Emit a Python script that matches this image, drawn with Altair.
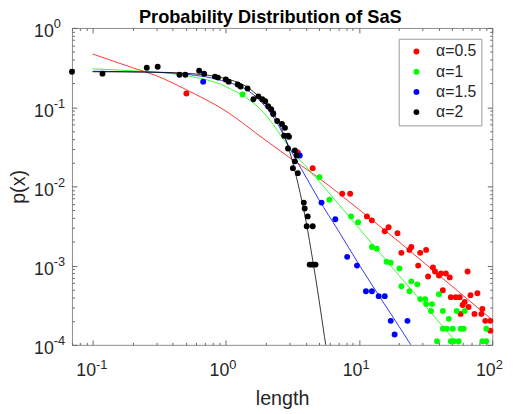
import altair as alt
import pandas as pd

# ---------------- data ----------------
series_names = ["α=0.5", "α=1", "α=1.5", "α=2"]
series_colors = ["#ff0000", "#00ff00", "#0000ff", "#000000"]

# scattered points
red_x = [0.506, 3.47, 4.49, 7.48, 8.58, 11.47, 12.48, 15.59, 16.68, 19.45, 20.8, 23.9, 24.7,
         28.8, 31.9, 27.8, 33.0, 35.9, 37.2, 39.8, 41.2, 44.9, 48.0, 65.3, 42.6, 53.2, 57.0,
         62.1, 68.7, 77.4, 48.9, 57.9, 66.4, 73.6, 82.9, 59.9, 88.7, 96.7, 96.7, 84.3]
red_y = [0.149, 0.0268, 0.0170, 0.00807, 0.00807, 0.00418, 0.00373, 0.00272, 0.00305, 0.00257,
         0.00145, 0.00158, 0.00172, 0.00145, 0.00158, 0.00100, 0.00073, 0.000945, 0.000842,
         0.000751, 0.000796, 0.000796, 0.00071, 0.000842, 0.000489, 0.0004, 0.0004, 0.000347,
         0.000424, 0.000449, 0.0004, 0.000246, 0.0003, 0.000246, 0.000246, 0.000318, 0.000201,
         0.000201, 0.000151, 0.000284]

green_x = [1.336, 5.05, 5.99, 8.73, 9.84, 12.5, 13.6, 16.1, 17.3, 20.1, 20.8, 23.9, 24.7, 27.4,
           28.8, 31.4, 31.9, 35.3, 34.7, 39.8, 42.6, 47.2, 42.6, 45.6, 50.6, 54.1, 62.1, 57.9,
           61.0, 38.5, 48.9, 51.4, 56.0, 84.3, 90.3, 90.3]
green_y = [0.145, 0.0131, 0.0068, 0.00418, 0.00352, 0.00172, 0.00163, 0.00112, 0.00109, 0.000918,
           0.000548, 0.000475, 0.000633, 0.00058, 0.000378, 0.000378, 0.000327, 0.000327,
           0.000268, 0.000436, 0.000268, 0.000213, 0.00016, 0.00016, 0.00016, 0.000268, 0.000268,
           0.00016, 0.00016, 0.000111, 0.000111, 0.000111, 0.000111, 0.000111, 0.000111, 0.00016]

blue_x = [0.676, 2.27, 3.59, 5.23, 6.64, 8.15, 9.66, 11.27, 12.5, 14.06, 15.6, 17.3, 23.1, 18.5]
blue_y = [0.210, 0.0842, 0.0246, 0.00624, 0.00384, 0.00129, 0.0010, 0.000475, 0.000475,
          0.000412, 0.000412, 0.000201, 0.000201, 0.000135]

black_x = [0.07, 0.1186, 0.255, 0.308, 0.449, 0.497, 0.631, 0.687, 0.829, 0.873, 1.0, 1.052,
           1.227, 1.291, 1.455, 1.612, 1.755, 1.879, 1.977, 2.08, 2.19, 2.27, 2.43, 2.64, 2.78,
           2.93, 2.74, 2.98, 2.93, 3.30, 3.41, 3.30, 3.19, 3.47, 3.85, 3.91, 4.12, 4.05, 4.49,
           4.26, 4.41, 4.56, 4.72]
black_y = [0.280, 0.265, 0.314, 0.323, 0.257, 0.257, 0.288, 0.265, 0.243, 0.236, 0.223, 0.210,
           0.193, 0.182, 0.172, 0.126, 0.137, 0.126, 0.119, 0.103, 0.0944, 0.0819, 0.067,
           0.0615, 0.0548, 0.0436, 0.0436, 0.0424, 0.0301, 0.0284, 0.0246, 0.0207, 0.0170,
           0.0147, 0.00624, 0.00525, 0.00418, 0.00314, 0.00314, 0.00103, 0.00103, 0.00103, 0.00103]

# fitted curves
red_line_x = [0.1, 0.2, 0.3, 0.5, 1, 2, 3, 5, 10, 20, 50, 100]
red_line_y = [0.469, 0.314, 0.25, 0.1675, 0.0892, 0.0379, 0.0232, 0.01276, 0.0051, 0.00199,
              0.000548, 0.000207]
green_line_x = [0.1, 0.2, 0.3, 0.5, 1, 2, 3, 5, 10, 20, 50, 100]
green_line_y = [0.305, 0.288, 0.276, 0.25, 0.182, 0.0796, 0.031, 0.0117, 0.00296, 0.00075,
                0.000124, 3.05e-5]
blue_line_x = [0.1, 0.2, 0.3, 0.5, 1, 1.5, 2, 2.5, 3, 4, 5, 7, 10, 15, 20, 30]
blue_line_y = [0.284, 0.280, 0.276, 0.261, 0.21, 0.158, 0.1, 0.058, 0.031, 0.0131, 0.0068,
               0.00276, 0.00103, 0.000357, 0.00017, 5.9e-5]
black_line_x = [0.1, 0.3, 0.5, 1, 1.5, 2, 2.5, 3, 3.5, 4, 4.5, 5, 5.5, 6]
black_line_y = [0.28, 0.276, 0.268, 0.229, 0.172, 0.109, 0.0632, 0.0284, 0.01045, 0.00362,
                0.00115, 0.000378, 0.000128, 4.96e-5]

# tick labels: base "10" with a raised exponent
x_tick_values = [0.1, 1, 10, 100]
x_tick_exponents = ["-1", "0", "1", "2"]
y_tick_values = [0.0001, 0.001, 0.01, 0.1, 1]
y_tick_exponents = ["-4", "-3", "-2", "-1", "0"]

x_domain = [0.07, 100]
y_domain = [0.0001, 1]

# ---------------- tables ----------------
pts = []
for name, xs_, ys_ in zip(series_names, [red_x, green_x, blue_x, black_x],
                          [red_y, green_y, blue_y, black_y]):
    for x, y in zip(xs_, ys_):
        pts.append({"series": name, "x": x, "y": y})
pts = pd.DataFrame(pts)

line_tables = []
for xs_, ys_ in zip([red_line_x, green_line_x, blue_line_x, black_line_x],
                    [red_line_y, green_line_y, blue_line_y, black_line_y]):
    line_tables.append(pd.DataFrame({"x": xs_, "y": ys_}))

minor_x = [m * 10 ** e for e in range(-2, 3) for m in range(1, 10)
           if x_domain[0] <= m * 10 ** e <= x_domain[1]]
minor_y = [m * 10 ** e for e in range(-4, 1) for m in range(1, 10)
           if y_domain[0] <= m * 10 ** e <= y_domain[1]]

W, H = 427, 322
FONT = "Liberation Sans"
TXT = "#262626"
BASE_FS = 18
EXP_FS = 13


def label_expr(values, labels):
    parts = [f"abs(datum.value - {v}) < {v} * 0.001 ? '{l}'" for v, l in zip(values, labels)]
    return " : ".join(parts) + " : ''"


xs = alt.Scale(type="log", domain=x_domain, nice=False)
ys = alt.Scale(type="log", domain=y_domain, nice=False)
cscale = alt.Scale(domain=series_names, range=series_colors)

x_axis = alt.Axis(values=x_tick_values, labelExpr="'10'",
                  ticks=False, domain=False, grid=False, title="length",
                  labelFontSize=BASE_FS, titleFontSize=20, labelPadding=17,
                  labelAlign="right", labelOffset=3,
                  titleFontWeight="normal", titleY=45, labelFlush=False)
y_axis = alt.Axis(values=y_tick_values, labelExpr="'10'",
                  ticks=False, domain=False, grid=False, title="p(x)",
                  labelFontSize=BASE_FS, titleFontSize=20, labelPadding=19,
                  labelAlign="right", labelBaseline="middle", labelOffset=4,
                  titleFontWeight="normal", titleX=-44, labelFlush=False)

line_layers = []
for tbl, col in zip(line_tables, series_colors):
    line_layers.append(
        alt.Chart(tbl).mark_line(clip=True, strokeWidth=0.8, interpolate="monotone",
                                 color=col).encode(
            x=alt.X("x:Q", scale=xs, axis=x_axis),
            y=alt.Y("y:Q", scale=ys, axis=y_axis),
        )
    )

points = alt.Chart(pts).mark_circle(size=36, opacity=1).encode(
    x=alt.X("x:Q", scale=xs, axis=x_axis),
    y=alt.Y("y:Q", scale=ys, axis=y_axis),
    color=alt.Color("series:N", scale=cscale, sort=series_names,
                    legend=alt.Legend(title=None, orient="top-right", offset=11,
                                      strokeColor="#9a9a9a", fillColor="white",
                                      padding=5, labelFontSize=16, labelFont=FONT,
                                      labelColor=TXT, symbolSize=36, symbolType="circle",
                                      rowPadding=4.5, symbolOffset=5, labelOffset=12)),
)
main = alt.layer(*line_layers, points)

tick_size = {"condition": {"test": "abs(log(datum.value)/LN10 - round(log(datum.value)/LN10)) < 0.01",
                           "value": 5}, "value": 2.5}
dummy = pd.DataFrame({"x": [1.0], "y": [0.01]})


def tick_layer(xorient, yorient):
    return alt.Chart(dummy).mark_point(opacity=0).encode(
        x=alt.X("x:Q", scale=xs, axis=alt.Axis(orient=xorient, offset=-H, values=minor_x,
                                                labels=False, domain=False, grid=False,
                                                title=None, tickSize=tick_size,
                                                tickColor="#666", tickWidth=1)),
        y=alt.Y("y:Q", scale=ys, axis=alt.Axis(orient=yorient, offset=-W, values=minor_y,
                                                labels=False, domain=False, grid=False,
                                                title=None, tickSize=tick_size,
                                                tickColor="#666", tickWidth=1)),
    )


# exponent labels (start where the "10" ends)
exp_layer = alt.Chart(dummy).mark_point(opacity=0).encode(
    x=alt.X("x:Q", scale=xs, axis=alt.Axis(orient="bottom", values=x_tick_values,
                                            labelExpr=label_expr(x_tick_values, x_tick_exponents),
                                            ticks=False, domain=False, grid=False, title=None,
                                            labelFontSize=EXP_FS, labelPadding=14,
                                            labelAlign="left", labelOffset=3, labelFlush=False)),
    y=alt.Y("y:Q", scale=ys, axis=alt.Axis(orient="left", values=y_tick_values,
                                            labelExpr=label_expr(y_tick_values, y_tick_exponents),
                                            ticks=False, domain=False, grid=False, title=None,
                                            labelFontSize=EXP_FS, labelPadding=19,
                                            labelAlign="left", labelBaseline="middle",
                                            labelOffset=-4, labelFlush=False)),
)

chart = alt.layer(main, tick_layer("top", "right"), tick_layer("bottom", "left"),
                  exp_layer).resolve_scale(
    x="independent", y="independent"
).properties(
    width=W, height=H,
    autosize=alt.AutoSizeParams(type="none"),
    padding={"left": 65, "top": 17, "right": 14, "bottom": 67},
    title=alt.TitleParams("Probability Distribution of SaS", fontSize=18.5, fontWeight="bold",
                          font=FONT, color="#000000", anchor="middle", frame="group",
                          offset=6, dx=-12, dy=14),
).configure_view(stroke="#8c8c8c", strokeWidth=1).configure_axis(
    labelFont=FONT, titleFont=FONT, labelColor=TXT, titleColor=TXT
)

chart.save("out.html", embed_options={"renderer": "svg", "actions": False})
